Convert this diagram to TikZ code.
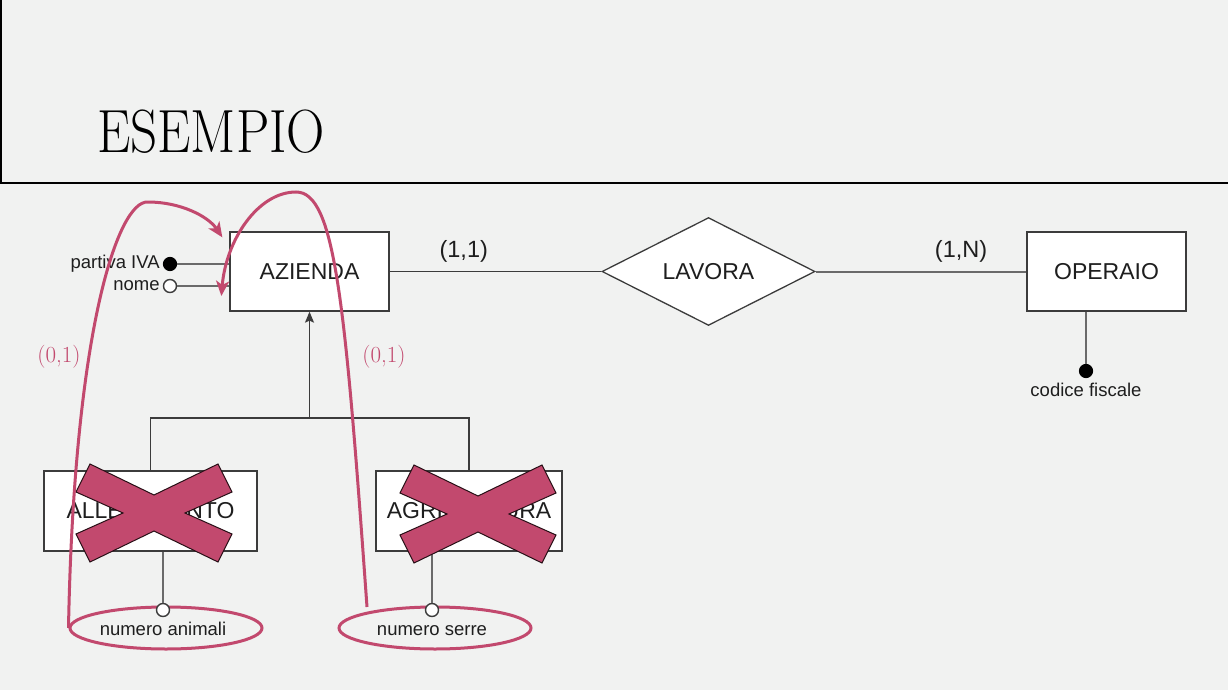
\documentclass[tikz,border=0pt]{standalone}
\usepackage{fontspec}
\setsansfont{Liberation Sans}
\usetikzlibrary{shapes.geometric,arrows.meta,positioning,calc}

\definecolor{slidebg}{HTML}{F1F2F1}
\definecolor{markpink}{HTML}{C2496E}
\definecolor{edgegray}{HTML}{3C3C3C}
\definecolor{linkgray}{HTML}{6A6A6A}
\definecolor{inkgray}{HTML}{1E1E1E}

\tikzset{
  entity/.style={draw=edgegray, fill=white, line width=1.3pt, minimum width=159pt, minimum height=79pt,
    inner sep=0pt, text=inkgray, font=\sffamily\fontsize{23}{23}\selectfont},
  relation/.style={diamond, draw=edgegray, fill=white, line width=1.3pt, minimum width=213pt,
    minimum height=107pt, inner sep=0pt, text=inkgray, font=\sffamily\fontsize{23}{23}\selectfont},
  link/.style={draw=edgegray, line width=1.3pt},
  attrline/.style={draw=linkgray, line width=2pt},
  keyattr/.style={circle, draw=black, fill=black, minimum size=13pt, inner sep=0pt, line width=1.2pt},
  attr/.style={circle, draw=edgegray, fill=white, minimum size=13pt, inner sep=0pt, line width=1.4pt},
  attrlabel/.style={font=\sffamily\fontsize{18.5}{18.5}\selectfont, text=inkgray, inner sep=2pt,
    text height=13pt, text depth=4pt},
  card/.style={font=\sffamily\fontsize{23.5}{23.5}\selectfont, text=inkgray},
  crossmark/.style={fill=markpink, draw=black!80!markpink, line width=1pt, line join=miter},
  annot/.style={ellipse, draw=markpink, line width=3pt, minimum width=192pt, minimum height=42pt},
  annotcurve/.style={draw=markpink, line width=3pt, -{Stealth[length=15pt,width=13pt,inset=4pt]}},
  annotlabel/.style={font=\rmfamily\fontsize{23}{23}\selectfont, text=markpink}
}

\begin{document}
\begin{tikzpicture}[x=1pt, y=-1pt]

    % Slide background and frame
    \fill[slidebg] (0,0) rectangle (1228,690);
    \useasboundingbox (0,0) rectangle (1228,690);
    \draw[line width=1.5pt] (1,0) -- (1,183);
    \draw[line width=1.5pt] (0,183) -- (1228,183);

    % Title
    \node[anchor=base west, inner sep=0pt, xscale=0.87, font=\rmfamily\fontsize{61}{61}\selectfont] (title) at (97,152) {ESEMPIO};

    % Pink ellipses round the attributes of the child entities
    \node[annot] (ring1) at (166,628) {};
    \node[annot] (ring2) at (435,628) {};

    % Entities and relationship
    \node[entity] (azienda) at (309.5,271.5) {AZIENDA};
    \node[relation] (lavora) at (708.5,271.5) {LAVORA};
    \node[entity] (operaio) at (1106.5,271.5) {OPERAIO};
    \node[entity, minimum width=213pt, minimum height=80pt] (allev) at (150.5,511) {ALLEVAMENTO};
    \node[entity, minimum width=186pt, minimum height=80pt] (agri) at (469,511) {AGRICOLTURA};

    % Links with cardinalities
    \draw[link] (azienda) -- node[card, pos=0.35, above=5pt] {(1,1)} (lavora);
    \draw[attrline] (lavora) -- node[card, pos=0.69, above=5pt] {(1,N)} (operaio);

    % Generalization
    \coordinate (gen) at (309.5,418);
    \draw[link, -{Stealth[length=11pt,width=9pt,inset=2pt]}] (gen) -- (azienda);
    \draw[link] (allev.north) |- (gen) -| (agri.north);

    % Attributes of AZIENDA
    \node[keyattr] (piva) at (170,264) {};
    \node[attr] (nome) at (170,286) {};
    \node[attrlabel, left=1pt of piva] (pival) {partiva IVA};
    \node[attrlabel, left=1pt of nome] (nomel) {nome};
    \foreach \a in {piva,nome} {
        \draw[attrline] (\a) -- (\a -| azienda.west);
    }

    % Attribute of OPERAIO
    \node[keyattr] (codf) at (1086,371) {};
    \node[attrlabel, below=3pt of codf] (codfl) {codice fiscale};
    \draw[attrline] (codf |- operaio.south) -- (codf);

    % Attributes of the child entities
    \node[attr] (anim) at (163,610) {};
    \node[attr] (serre) at (432,610) {};
    \node[attrlabel, below=3pt of anim] (animl) {numero animali};
    \node[attrlabel, below=3pt of serre] (serrel) {numero serre};
    \draw[attrline] (anim |- allev.south) -- (anim);
    \draw[attrline] (serre |- agri.south) -- (serre);

    % Pink crosses over the child entities
    \foreach \cx/\cy in {154/513, 478/514} {
        \begin{scope}[shift={(\cx,\cy)}]
            \draw[crossmark] (-64,-49) -- (0,-18) -- (64,-49) -- (78,-21) -- (31,0) -- (78,21)
                -- (64,49) -- (0,18) -- (-64,49) -- (-78,21) -- (-31,0) -- (-78,-21) -- cycle;
        \end{scope}
    }

    % Annotation curves moving the attributes up to AZIENDA
    \coordinate (tip1) at ([shift={(-7pt,-6pt)}]azienda.north west);
    \coordinate (tip2) at ([shift={(-8pt,-24.5pt)}]azienda.west);
    \coordinate (start2) at (367,607);
    \draw[annotcurve] (ring1.west) .. controls (74,330) and (118,200) .. (148,202)
        .. controls (180,202) and (208,216) .. (tip1);
    \draw[annotcurve] (start2) .. controls (345,300) and (335,192) .. (296,192)
        .. controls (258,192) and (226,240) .. (tip2);
    \node[annotlabel] (card1) at (59,357) {(0,1)};
    \node[annotlabel] (card2) at (384,357) {(0,1)};

\end{tikzpicture}
\end{document}
